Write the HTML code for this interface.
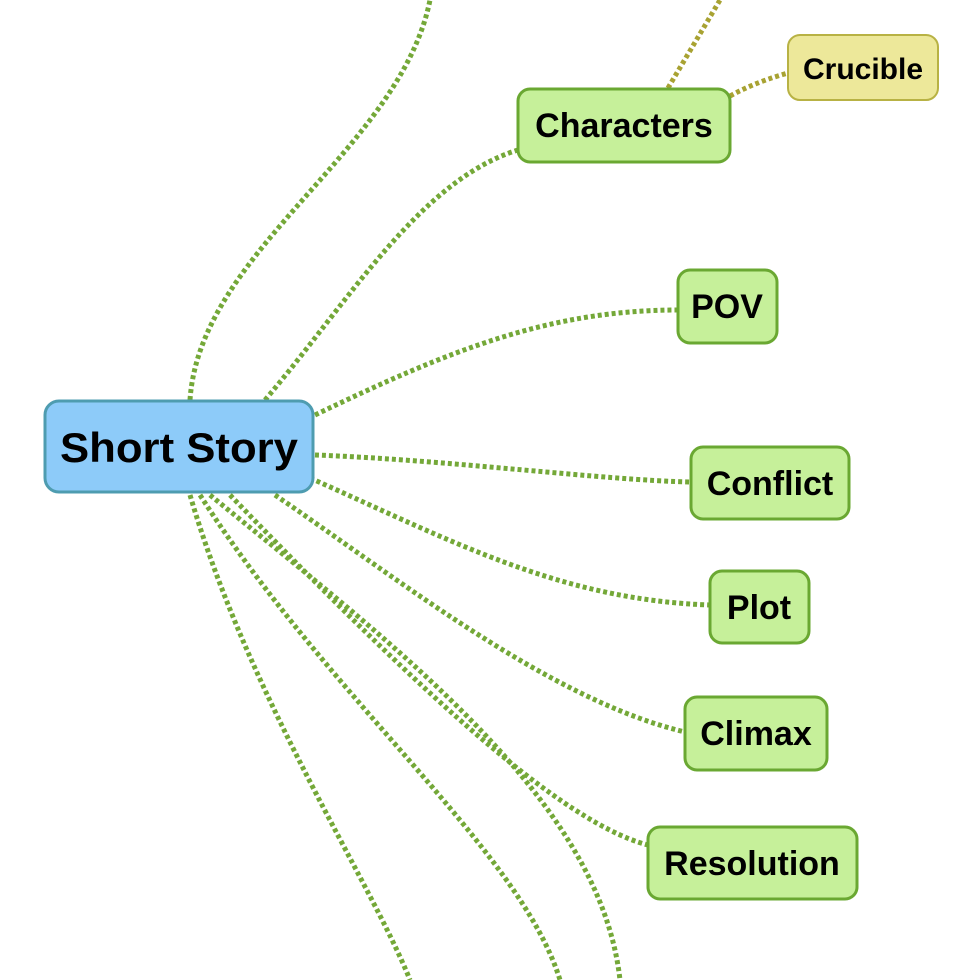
<!DOCTYPE html>
<html><head><style>
body{margin:0;background:#fff;}
svg{display:block;}
text{font-family:"Liberation Sans",sans-serif;font-weight:bold;fill:#000;}
</style></head><body>
<svg width="980" height="980" viewBox="0 0 980 980">
<g fill="none" stroke="#74a838" stroke-width="5" stroke-dasharray="4 3">
<path d="M190,400 C200,250 400,150 430,0"/>
<path d="M265,400 C350,300 420,180 518,150"/>
<path d="M315,415 C450,350 550,310 678,310"/>
<path d="M315,455 C450,460 600,480 691,482"/>
<path d="M310,478 C450,540 560,600 710,605"/>
<path d="M275,495 C400,580 550,700 685,732"/>
<path d="M230,495 C380,650 550,820 648,845"/>
<path d="M190,495 C250,700 370,880 410,980"/>
<path d="M200,495 C330,700 520,850 560,980"/>
<path d="M210,495 C400,650 600,800 620,980"/>
</g>
<g fill="none" stroke="#a8a232" stroke-width="5" stroke-dasharray="4 3">
<path d="M668,88 L720,0"/>
<path d="M730,96 C750,85 770,78 788,73"/>
</g>
<rect x="45" y="401" width="268" height="91" rx="14" fill="#8dcbf9" stroke="#4e9cb0" stroke-width="3"/>
<text x="179" y="462" font-size="42" text-anchor="middle" textLength="238" lengthAdjust="spacingAndGlyphs">Short Story</text>
<g fill="#c6f09a" stroke="#6aa832" stroke-width="3">
<rect x="518" y="89" width="212" height="73" rx="12"/>
<rect x="678" y="270" width="99" height="73" rx="12"/>
<rect x="691" y="447" width="158" height="72" rx="12"/>
<rect x="710" y="571" width="99" height="72" rx="12"/>
<rect x="685" y="697" width="142" height="73" rx="12"/>
<rect x="648" y="827" width="209" height="72" rx="12"/>
</g>
<rect x="788" y="35" width="150" height="65" rx="12" fill="#ede89a" stroke="#b8b244" stroke-width="2"/>
<g font-size="34" text-anchor="middle">
<text x="624" y="137">Characters</text>
<text x="727" y="318">POV</text>
<text x="770" y="495">Conflict</text>
<text x="759" y="619">Plot</text>
<text x="756" y="745">Climax</text>
<text x="752" y="875">Resolution</text>
</g>
<text x="863" y="79" font-size="30" text-anchor="middle">Crucible</text>
</svg>
</body></html>
